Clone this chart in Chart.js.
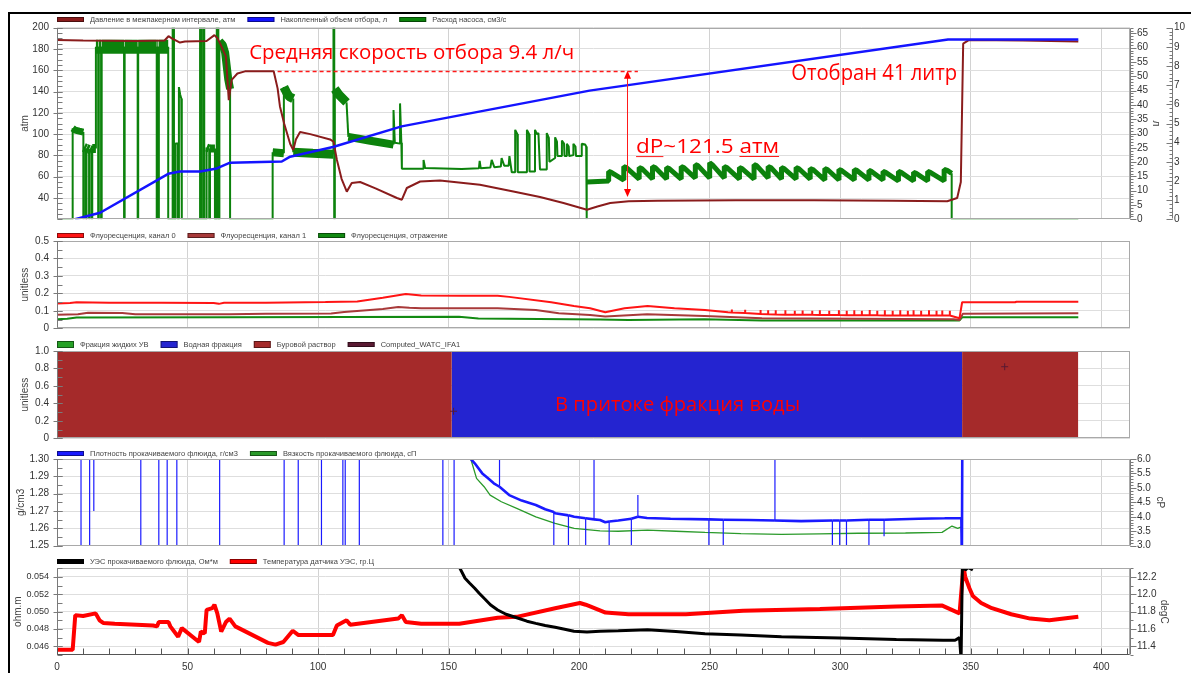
<!DOCTYPE html>
<html><head><meta charset="utf-8">
<script src="https://cdn.jsdelivr.net/npm/chart.js@4.4.1/dist/chart.umd.min.js"></script>
<style>
html,body{margin:0;padding:0;background:#fff;}
#wrap{position:relative;width:1191px;height:673px;overflow:hidden;background:#fff;}
canvas{position:absolute;left:0;top:0;}
#frame{position:absolute;left:8px;top:12px;width:1200px;height:700px;border-top:2px solid #000;border-left:2px solid #000;}
</style></head><body>
<div id="wrap">
<div id="frame"></div>
<canvas id="c1" width="1191" height="673"></canvas>
<canvas id="c2" width="1191" height="673"></canvas>
<canvas id="c3" width="1191" height="673"></canvas>
<canvas id="c4" width="1191" height="673"></canvas>
<canvas id="c5" width="1191" height="673"></canvas>
</div>
<script>
// ---------- tick labels ----------
const X_TICKS = [0,50,100,150,200,250,300,350,400];
const ATM_TICKS = [40,60,80,100,120,140,160,180,200];
const LITER_TICKS = [0,5,10,15,20,25,30,35,40,45,50,55,60,65];
const RATE_TICKS = [0,1,2,3,4,5,6,7,8,9,10];
const FLUOR_TICKS = [0,0.1,0.2,0.3,0.4,0.5];
const FRACTION_TICKS = [0,0.2,0.4,0.6,0.8,1.0];
const DENSITY_TICKS = [1.25,1.26,1.27,1.28,1.29,1.30];
const VISC_TICKS = [3.0,3.5,4.0,4.5,5.0,5.5,6.0];
const RES_TICKS = [0.046,0.048,0.050,0.052,0.054];
const TEMP_TICKS = [11.4,11.6,11.8,12.0,12.2];

// ---------- panel 1 ----------
const pressure = [[0,188.5],[10,188],[30,187.5],[41.2,188],[42.7,192],[44,190],[47.1,186],[49,187],[57.3,187.5],[60.3,193],[61.5,190],[62.5,185],[64.7,173],[65.8,132],[66.9,151],[69.1,157],[72,159],[83,159],[84.5,143],[85.4,126],[87,110],[89.3,91],[90.5,85],[91.5,95],[93.1,102],[97,100],[104.6,95],[105.9,93],[107.2,76],[109,58],[111,46],[112.9,54],[116.1,55],[122,49],[130.2,40],[132.1,38.4],[134,49.4],[139.1,55.5],[146.7,56.5],[162,52.4],[174.8,46.2],[185,41],[194,35.3],[203,29],[207,32],[211.9,35.3],[219,37],[230,37.5],[260,38],[290,38],[320,37.5],[341,37],[344.8,40],[346.2,55],[347.1,185],[349.4,188.5],[370,188],[391.2,187]];
const volume = [[6.9,0],[16.5,2.3],[42.6,15.9],[47.1,16.7],[54.8,16.7],[61.2,17.8],[66.3,19.8],[86.1,20.2],[89.3,21.9],[105.7,25.3],[132,32.5],[204,45],[341.3,62.9],[391.2,62.9]];
const pumpRate = [[0,0],[6.0,0],[6.0,4.75],[7.0,4.65],[8.5,4.6],[10.1,4.55],[10.1,0],[10.3,0],[10.3,3.75],[11.1,3.7],[11.1,0],[11.3,0],[11.3,3.7],[12.3,3.65],[12.3,0],[12.5,0],[12.5,3.65],[13.3,3.6],[13.3,0],[13.5,0],[13.5,3.7],[14.9,3.7],[14.9,9.0],[15.8,9.0],[15.8,0],[16.0,0],[16.0,9.0],[16.9,9.0],[16.9,0],[17.1,0],[17.1,9.0],[25.7,9.0],[25.7,0],[25.9,0],[25.9,9.0],[30.9,9.0],[30.9,0],[31.1,0],[31.1,9.0],[38.2,9.0],[38.2,0],[38.4,0],[38.4,9.0],[38.8,9.0],[38.8,0],[39.0,0],[39.0,9.0],[42.6,9.0],[42.6,0],[44.3,0],[44.3,11],[44.8,11],[44.8,0],[45.4,0],[45.4,3.95],[46.3,3.95],[46.3,0],[46.7,0],[46.7,6.9],[47.2,6.5],[47.6,6.3],[47.8,0],[54.8,0],[54.8,11],[55.2,11],[55.2,0],[56.0,0],[56.0,11],[56.4,11],[56.4,0],[57.3,0],[57.3,3.75],[58.3,3.7],[58.3,0],[58.6,0],[58.6,3.7],[60.5,3.7],[60.5,0],[61.2,0],[61.2,11],[61.8,11],[61.8,0],[62.2,0],[62.2,9.3],[63.5,9.1],[64.4,8.7],[65.0,8.0],[65.6,7.3],[66.3,6.8],[66.3,0],[82.6,0],[82.6,3.5],[86.9,3.45],[86.9,6.9],[88,6.6],[89,6.4],[90.5,6.3],[90.5,3.5],[98,3.45],[105.9,3.4],[105.9,11],[106.2,11],[106.2,0],[106.4,0],[106.4,6.8],[108,6.5],[110.9,6.1],[111.6,4.3],[120,4.1],[128.9,3.9],[128.9,5.7],[129.4,4.0],[131.4,3.95],[131.4,6.05],[131.9,4.0],[132.1,2.64],[140.2,2.64],[140.4,3.1],[141.0,2.68],[155,2.62],[161.6,2.66],[161.9,3.05],[162.3,2.66],[166,2.7],[166.5,3.1],[167.5,2.72],[170,2.75],[170.3,3.2],[171.3,2.8],[173,2.8],[173.3,3.3],[174.2,2.45],[175.5,2.45],[175.5,4.67],[176.3,4.45],[176.5,2.45],[180,2.45],[180,4.67],[180.8,4.45],[181,2.5],[183.1,2.5],[183.1,4.67],[183.8,4.45],[184.4,4.5],[185,2.6],[187.6,2.6],[187.6,4.5],[188.4,4.25],[188.6,3.0],[190.8,3.2],[190.8,4.28],[191.5,4.05],[191.7,3.3],[193.4,3.3],[193.4,4.11],[194.2,3.95],[194.4,3.3],[195.3,3.3],[195.3,3.94],[196,3.8],[196.2,3.3],[197.8,3.35],[197.8,3.94],[198.6,3.8],[198.8,3.3],[201,3.3],[201,3.94],[202.3,3.9],[202.7,3.8],[202.7,0],[203,0],[203,1.95],[211.3,2.0],
[211.3,2.5],[212.3,2.45],[217.1,2.05],[217.1,2.75],[218.1,2.7],[223,2.1],[223,2.7],[224,2.65],[228.1,2.1],[228.1,2.75],[229.1,2.7],[233.5,2.1],[233.5,2.7],[234.5,2.65],[239.1,2.1],[239.1,2.75],[240.1,2.7],[244.5,2.15],[244.5,2.85],[245.5,2.8],[250,2.15],[250,2.95],[251,2.85],[255.6,2.15],[255.6,2.75],[256.6,2.7],[261.4,2.1],[261.4,2.7],[262.4,2.65],[267,2.1],[267,2.85],[268,2.8],[272.4,2.15],[272.4,2.75],[273.4,2.7],[277.5,2.1],[277.5,2.7],[278.5,2.65],[283.1,2.1],[283.1,2.7],[284.1,2.65],[288.5,2.1],[288.5,2.65],[289.5,2.6],[294.1,2.05],[294.1,2.65],[295.1,2.6],[299.5,2.05],[299.5,2.6],[300.5,2.55],[305.4,2.05],[305.4,2.6],[306.4,2.55],[311,2.05],[311,2.55],[312,2.5],[316.4,2.05],[316.4,2.5],[317.4,2.45],[322.3,2.0],[322.3,2.5],[323.3,2.45],[328.1,2.0],[328.1,2.45],[329.1,2.4],[333.5,2.0],[333.5,2.5],[334.5,2.45],[339.8,2.0],[339.8,2.6],[341,2.55],[342.7,2.4],[342.7,0],[391.2,0]];

// ---------- panel 2 ----------
const fluor0 = [[0,0.142],[5,0.145],[7.5,0.149],[20,0.146],[40,0.147],[60,0.145],[62,0.14],[64,0.146],[80,0.147],[102.8,0.15],[115,0.153],[124.8,0.175],[133.6,0.196],[139.5,0.188],[155,0.186],[168.8,0.186],[173.2,0.18],[189.3,0.149],[198,0.128],[204.2,0.115],[210,0.092],[217.4,0.115],[226.2,0.128],[236.5,0.115],[248.2,0.105],[257,0.092],
[258.5,0.09],[258.5,0.108],[258.5,0.09],[263.6,0.087],[263.6,0.106],[263.6,0.087],[269.5,0.082],[269.5,0.105],[269.5,0.082],[272.4,0.08],[272.4,0.104],[272.4,0.08],[275.3,0.079],[275.3,0.104],[275.3,0.079],[279,0.078],[279,0.103],[279,0.078],[282.6,0.078],[282.6,0.1],[282.6,0.078],[285.6,0.077],[285.6,0.102],[285.6,0.077],[289.3,0.077],[289.3,0.1],[289.3,0.077],[292.2,0.076],[292.2,0.103],[292.2,0.076],[295.8,0.076],[295.8,0.1],[295.8,0.076],[299.5,0.076],[299.5,0.103],[299.5,0.076],[302.5,0.075],[302.5,0.1],[302.5,0.075],[305.4,0.075],[305.4,0.104],[305.4,0.075],[308.3,0.075],[308.3,0.1],[308.3,0.075],[311.3,0.075],[311.3,0.105],[311.3,0.075],[314.2,0.075],[314.2,0.1],[314.2,0.075],[317.1,0.074],[317.1,0.104],[317.1,0.074],[320.1,0.074],[320.1,0.1],[320.1,0.074],[323,0.074],[323,0.103],[323,0.074],[325.9,0.074],[325.9,0.1],[325.9,0.074],[328.1,0.073],[328.1,0.104],[328.1,0.073],[331,0.073],[331,0.1],[331,0.073],[334,0.073],[334,0.103],[334,0.073],[336.9,0.073],[336.9,0.1],[336.9,0.073],[339.1,0.073],[339.1,0.102],[339.1,0.073],[342,0.073],[342,0.1],[342,0.073],[345.7,0.058],[346.7,0.149],[367,0.149],[367.5,0.152],[391.2,0.152]];
const fluor1 = [[0,0.078],[8,0.08],[11.9,0.089],[25,0.087],[30,0.08],[66.1,0.08],[80,0.083],[105,0.085],[110,0.093],[124.8,0.11],[130.7,0.122],[135,0.118],[139.5,0.115],[168.8,0.115],[183.4,0.105],[192.2,0.086],[204.2,0.076],[210,0.067],[226,0.08],[248,0.07],[270,0.057],[343.5,0.052],[345.7,0.048],[347,0.084],[391.2,0.086]];
const fluorRefl = [[0,0.052],[3.9,0.055],[7.5,0.062],[66.1,0.064],[154,0.066],[161.4,0.056],[208,0.05],[218.9,0.048],[248,0.052],[270,0.045],[345.7,0.045],[346.7,0.063],[391.2,0.063]];

// ---------- panel 3 ----------
const hydrocarbonFraction = [];
const waterFraction = [[151.2,0],[151.2,1],[346.7,1],[346.7,0]];
const mudFraction = [[0,1],[151.2,1],[151.2,0],[346.7,0],[346.7,1],[391.2,1],[391.2,0]];
const computedWatc = [[151.9,0.31],[363,0.82]];

// ---------- panel 4 ----------
const density = [[0,1.32],[9.2,1.32],[9.2,1.24],[9.2,1.32],[12.5,1.32],[12.5,1.24],[12.5,1.32],[14.1,1.32],[14.1,1.27],[14.1,1.32],[32.1,1.32],[32.1,1.24],[32.1,1.32],[39.0,1.32],[39.0,1.24],[39.0,1.32],[42.2,1.32],[42.2,1.24],[42.2,1.32],[45.9,1.32],[45.9,1.24],[45.9,1.32],[62.3,1.32],[62.3,1.24],[62.3,1.32],[87.0,1.32],[87.0,1.24],[87.0,1.32],[92.4,1.32],[92.4,1.24],[92.4,1.32],[101.3,1.32],[101.3,1.24],[101.3,1.32],[109.5,1.32],[109.5,1.24],[109.5,1.32],[110.4,1.32],[110.4,1.24],[110.4,1.32],[115.8,1.32],[115.8,1.24],[115.8,1.32],[147.8,1.32],[147.8,1.24],[147.8,1.32],[152.1,1.32],[152.1,1.24],[152.1,1.32],[156,1.31],[158.5,1.30],[160,1.2975],[162.9,1.2917],[165,1.289],[167.3,1.286],[169.5,1.284],[169.5,1.32],[169.5,1.284],[173.2,1.2792],[178,1.276],[183.4,1.2735],[187,1.271],[190.3,1.2695],[190.3,1.24],[190.3,1.2695],[190.8,1.2687],[195.9,1.2675],[195.9,1.24],[195.9,1.2675],[198.1,1.2667],[202.5,1.2658],[202.5,1.24],[202.5,1.2658],[205.7,1.2652],[205.7,1.32],[205.7,1.2652],[208,1.2648],[210,1.2635],[211.5,1.264],[211.5,1.24],[211.5,1.264],[215,1.2645],[220,1.2655],[220,1.24],[220,1.2655],[222.5,1.2667],[222.5,1.2792],[222.5,1.2667],[226,1.266],[235,1.2655],[249.7,1.2652],[249.7,1.24],[249.7,1.2652],[255.2,1.265],[255.2,1.24],[255.2,1.265],[265,1.2648],[275,1.2645],[275,1.32],[275,1.2645],[285,1.2642],[297,1.2645],[297,1.24],[297,1.2645],[299.8,1.2645],[299.8,1.24],[299.8,1.2645],[302.4,1.2645],[302.4,1.24],[302.4,1.2645],[311,1.265],[311,1.24],[311,1.265],[316.8,1.265],[316.8,1.2555],[316.8,1.265],[330,1.2655],[340,1.2658],[346.4,1.266],[346.6,1.24],[346.8,1.32]];
const viscosity = [[157.8,6.6],[158.5,6.0],[160.7,5.33],[163.6,5.04],[165.9,4.75],[170.2,4.52],[176.1,4.29],[183.4,4.0],[190.8,3.77],[198.1,3.6],[208,3.51],[215,3.5],[226.2,3.54],[237,3.5],[248.2,3.46],[262,3.42],[277.5,3.39],[292,3.41],[306.9,3.43],[325,3.44],[339,3.46],[342.8,3.68],[345,3.6],[346.4,3.65],[346.7,3.0]];

// ---------- panel 5 ----------
const resistivity = [[152.7,0.0556],[154,0.0552],[156.3,0.05385],[158,0.0533],[160,0.0527],[161.8,0.0521],[163.6,0.05154],[166,0.0508],[168.8,0.05019],[172,0.0497],[176.1,0.0493],[180,0.0489],[183.4,0.04865],[187,0.0484],[190.8,0.0482],[194,0.048],[198,0.04775],[203,0.04765],[208,0.04775],[215,0.0478],[226.2,0.0479],[237,0.0477],[248.2,0.04745],[262,0.0473],[277.5,0.0471],[300,0.04695],[321.5,0.0468],[339.5,0.0467],[344,0.0467],[345.7,0.047],[346.3,0.0445],[346.8,0.0556],[347.9,0.0548],[349,0.0551],[350.8,0.0548]];
const sensorTemp = [[0,11.36],[6,11.36],[7,11.76],[10,11.75],[14.8,11.78],[16.3,11.70],[17.7,11.67],[22.1,11.66],[36.8,11.64],[38.3,11.63],[39,11.68],[42.7,11.68],[43.4,11.63],[46.4,11.51],[47.8,11.61],[54.4,11.45],[55.1,11.57],[56.6,11.55],[57.3,11.82],[59.5,11.84],[60.3,11.88],[61.4,11.78],[62.9,11.57],[64.7,11.68],[66.1,11.72],[68.3,11.63],[80.8,11.44],[83.7,11.42],[86.7,11.45],[90.3,11.58],[92.5,11.53],[105.7,11.53],[107.2,11.64],[110.9,11.70],[112.3,11.65],[130.7,11.72],[132.1,11.76],[133.6,11.68],[139.5,11.66],[154.1,11.66],[168.8,11.73],[176.1,11.74],[190.8,11.84],[200.3,11.90],[202.5,11.88],[204.2,11.86],[210.1,11.79],[218.9,11.77],[240.9,11.77],[262.8,11.81],[292.2,11.83],[321.5,11.86],[339.1,11.87],[345.7,11.78],[346.7,12.14],[347.2,12.32],[347.9,12.2],[349.5,12.07],[350.8,11.98],[354,11.9],[358.1,11.84],[365.5,11.77],[372.8,11.72],[380.1,11.70],[391.2,11.74]];

// ---------- styling helpers ----------
const FONT = '"Liberation Sans", Arial, sans-serif';
const NOTE_FONT = '"Open Sans", "Noto Sans", sans-serif';
// [from, to, width, thick verticals]
const PUMP_BANDS = [[6,10.1,7,0],[10.1,14.9,9,0],[14.9,42.6,14,0],[57.3,60.5,8,0],[62,66,8,0],[82.6,86.9,8,0],[86.9,90.5,9,0],[90.5,105.9,9,0],[106.3,111,9,0],[111.6,128.9,8,0],[203,342.7,5,1]];
function pumpWidth(c){
  const x0=c.p0.parsed.x, x1=c.p1.parsed.x, y0=c.p0.parsed.y, y1=c.p1.parsed.y;
  const m=(x0+x1)/2;
  for (const b of PUMP_BANDS) if (m>b[0] && m<b[1]) {
    if (x0===x1 && !(b[3] && y0>0.5 && y1>0.5)) return undefined;
    return b[2];
  }
  return undefined;
}
function spikeThin(c){ return c.p0.parsed.x===c.p1.parsed.x ? 1.2 : undefined; }

function xAxis(show){
  return { type:'linear', min:0, max:411,
    afterBuildTicks: s => { s.ticks = X_TICKS.map(v=>({value:v})); },
    afterFit: s => { s.height = show ? 18 : 0; },
    grid:{ color:'#d2d2d2', drawTicks:false }, border:{display:false},
    ticks:{ display:show, padding:6, color:'#333', font:{family:FONT,size:10}, maxRotation:0, autoSkip:false, callback:v=>String(v) } };
}
function yAxis(o){
  return { type:'linear', position:o.pos, min:o.min, max:o.max, weight:o.weight||0,
    afterBuildTicks: s => { s.ticks = o.ticks.map(v=>({value:v})); },
    afterFit: s => { s.width = o.width; },
    ticks:{ callback:v=>o.fmt(v), padding:o.pad, color:'#333', font:{family:FONT,size:o.fs||10}, autoSkip:false },
    grid:{ display:!!o.grid, drawOnChartArea:!!o.grid, drawTicks:false, color:'#dedede' },
    border:{display:false},
    title:{ display:!!o.title, text:o.title||'', color:'#444', font:{family:FONT,size:10}, padding:{top:o.tpad||0,bottom:0} } };
}
function baseOpts(top, bottom, right){
  return { responsive:false, animation:false, events:[],
    layout:{padding:{top:top,bottom:bottom,left:0,right:right}},
    elements:{ point:{radius:0}, line:{tension:0, borderJoinStyle:'bevel', borderCapStyle:'butt'} },
    plugins:{ legend:{display:false}, tooltip:{enabled:false} } };
}
function makeDecor(axes, xMinor){
  return { id:'decor', afterDraw(chart){
    const ctx=chart.ctx, a=chart.chartArea;
    const L=Math.round(a.left)+0.5, R=Math.round(a.right)-0.5, T=Math.round(a.top)+0.5, B=Math.round(a.bottom)-0.5;
    ctx.save(); ctx.lineWidth=1;
    ctx.strokeStyle='#a9a9a9'; ctx.strokeRect(L,T,R-L,B-T);
    axes.forEach(ax => {
      const s=chart.scales[ax.id];
      const x0=(s.position==='left'?Math.round(a.left):Math.round(s.left))+0.5;
      ctx.strokeStyle='#7a7a7a';
      ctx.beginPath(); ctx.moveTo(x0,T); ctx.lineTo(x0,B);
      const n=Math.round((s.max-s.min)/ax.minor);
      for(let i=0;i<=n;i++){ const y=Math.round(s.getPixelForValue(s.min+i*ax.minor))+0.5; ctx.moveTo(x0,y); ctx.lineTo(x0+ax.dir*ax.minorLen,y); }
      s.ticks.forEach(t => { const y=Math.round(s.getPixelForValue(t.value))+0.5; ctx.moveTo(x0-ax.dir*ax.outLen,y); ctx.lineTo(x0+ax.dir*ax.inLen,y); });
      ctx.stroke();
    });
    if (xMinor){
      const s=chart.scales.x; ctx.strokeStyle='#555'; ctx.beginPath();
      ctx.moveTo(L,B); ctx.lineTo(R,B);
      const n=Math.floor(s.max/xMinor);
      for(let i=0;i<=n;i++){ const x=Math.round(s.getPixelForValue(i*xMinor))+0.5; ctx.moveTo(x,B); ctx.lineTo(x,B-6); }
      ctx.stroke();
    }
    ctx.restore();
  }};
}
function makeLegend(y){
  return { id:'miniLegend', afterDraw(chart){
    const ctx=chart.ctx; let x=Math.round(chart.chartArea.left);
    ctx.save(); ctx.font='7.5px '+FONT; ctx.textBaseline='middle';
    chart.data.datasets.forEach(ds => {
      const box=ds.legendBox==='box';
      const w=box?17:27, h=box?7:5, top=Math.round(y-h/2);
      ctx.fillStyle=ds.legendColor||ds.borderColor;
      ctx.fillRect(x,top,w,h);
      ctx.strokeStyle='rgba(0,0,0,0.45)'; ctx.lineWidth=1; ctx.strokeRect(x+0.5,top+0.5,w-1,h-1);
      x+=w+6;
      ctx.fillStyle='#444'; ctx.fillText(ds.label,x,y+0.5);
      x+=ctx.measureText(ds.label).width+12;
    });
    ctx.restore();
  }};
}
function makeNotes(items){
  return { id:'notes', afterDraw(chart){
    const ctx=chart.ctx, xs=chart.scales.x;
    items.forEach(it => {
      const ys=chart.scales[it.axis];
      ctx.save(); ctx.strokeStyle='#ff1a1a'; ctx.fillStyle='#ff0000'; ctx.lineWidth=1;
      if (it.type==='text'){
        const x=xs.getPixelForValue(it.x), y=ys.getPixelForValue(it.y);
        ctx.font=it.size+'px '+NOTE_FONT;
        const w=ctx.measureText(it.text).width;
        ctx.translate(x,y); ctx.scale(it.width/w,1);
        ctx.textBaseline='alphabetic'; ctx.fillText(it.text,0,0);
        (it.underline||[]).forEach(sub => {
          const i=it.text.indexOf(sub);
          const u0=ctx.measureText(it.text.slice(0,i)).width, u1=u0+ctx.measureText(sub).width;
          ctx.beginPath(); ctx.moveTo(u0,3.5); ctx.lineTo(u1,3.5); ctx.stroke();
        });
      } else if (it.type==='dash'){
        const y=Math.round(ys.getPixelForValue(it.y))+0.5;
        ctx.lineWidth=1.3; ctx.setLineDash([4,3]); ctx.beginPath();
        ctx.moveTo(xs.getPixelForValue(it.x1),y); ctx.lineTo(xs.getPixelForValue(it.x2),y); ctx.stroke();
      } else if (it.type==='arrow'){
        const x=Math.round(xs.getPixelForValue(it.x))+0.5, y1=ys.getPixelForValue(it.y1), y2=ys.getPixelForValue(it.y2);
        ctx.beginPath(); ctx.moveTo(x,y1+5); ctx.lineTo(x,y2-5); ctx.stroke();
        ctx.beginPath(); ctx.moveTo(x,y1); ctx.lineTo(x-3.5,y1+8); ctx.lineTo(x+3.5,y1+8); ctx.closePath(); ctx.fill();
        ctx.beginPath(); ctx.moveTo(x,y2); ctx.lineTo(x-3.5,y2-8); ctx.lineTo(x+3.5,y2-8); ctx.closePath(); ctx.fill();
      }
      ctx.restore();
    });
  }};
}
const f0 = v => String(v);
const f1z = v => v===0 ? '0' : v.toFixed(1);

// ---------- chart 1 ----------
new Chart(document.getElementById('c1'), {
  type:'line',
  data:{ datasets:[
    {label:'Давление в межпакерном интервале, атм', data:pressure, yAxisID:'yA', borderColor:'#8a1c1c', borderWidth:2, order:1},
    {label:'Накопленный объем отбора, л', data:volume, yAxisID:'yV', borderColor:'#1414ff', borderWidth:2.5, order:0},
    {label:'Расход насоса, см3/с', data:pumpRate, yAxisID:'yQ', borderColor:'#0c820c', borderWidth:2, order:2, segment:{borderWidth:pumpWidth}}
  ]},
  options: Object.assign(baseOpts(27.7, 673-219.3, 0), { scales:{
    x: xAxis(false),
    yA: yAxis({pos:'left', min:20, max:200, ticks:ATM_TICKS, fmt:f0, pad:8, width:57, grid:true, title:'atm', tpad:19}),
    yV: yAxis({pos:'right', min:0, max:67, ticks:LITER_TICKS, fmt:f0, pad:7, width:42, title:'л', tpad:10, weight:0}),
    yQ: yAxis({pos:'right', min:0, max:10, ticks:RATE_TICKS, fmt:f0, pad:2, width:19, weight:1})
  }}),
  plugins:[
    makeDecor([{id:'yA',minor:5,dir:1,minorLen:5,inLen:5,outLen:4},{id:'yV',minor:1,dir:1,minorLen:3,inLen:6,outLen:0},{id:'yQ',minor:0.2,dir:-1,minorLen:3,inLen:6,outLen:0}]),
    makeLegend(19.5),
    makeNotes([
      {type:'text', text:'Средняя скорость отбора 9.4 л/ч', x:73.6, y:170.4, axis:'yA', size:20, width:325},
      {type:'dash', x1:84.5, x2:222.5, y:159.5, axis:'yA'},
      {type:'arrow', x:218.2, y1:159.5, y2:40.9, axis:'yA'},
      {type:'text', text:'dP~121.5 атм', x:221.8, y:82.2, axis:'yA', size:20, width:143, underline:['dP','атм']},
      {type:'text', text:'Отобран 41 литр', x:281.2, y:150.9, axis:'yA', size:21, width:166}
    ])
  ]
});

// ---------- chart 2 ----------
new Chart(document.getElementById('c2'), {
  type:'line',
  data:{ datasets:[
    {label:'Флуоресценция, канал 0', data:fluor0, yAxisID:'y', borderColor:'#ff1414', borderWidth:2, order:0},
    {label:'Флуоресценция, канал 1', data:fluor1, yAxisID:'y', borderColor:'#a83a3a', borderWidth:2, order:1},
    {label:'Флуоресценция, отражение', data:fluorRefl, yAxisID:'y', borderColor:'#128a12', borderWidth:2, order:2}
  ]},
  options: Object.assign(baseOpts(241, 673-328.3, 61), { scales:{
    x: xAxis(false),
    y: yAxis({pos:'left', min:0, max:0.5, ticks:FLUOR_TICKS, fmt:f1z, pad:8, width:57, grid:true, title:'unitless', tpad:19})
  }}),
  plugins:[ makeDecor([{id:'y',minor:0.05,dir:1,minorLen:5,inLen:5,outLen:4}]), makeLegend(235) ]
});

// ---------- chart 3 ----------
new Chart(document.getElementById('c3'), {
  type:'line',
  data:{ datasets:[
    {label:'Фракция жидких УВ', data:hydrocarbonFraction, yAxisID:'y', borderColor:'#27a127', backgroundColor:'#27a127', borderWidth:0, legendBox:'box'},
    {label:'Водная фракция', data:waterFraction, yAxisID:'y', borderColor:'#2424d0', backgroundColor:'#2424d0', borderWidth:0, fill:'origin', legendBox:'box'},
    {label:'Буровой раствор', data:mudFraction, yAxisID:'y', borderColor:'#a52a2a', backgroundColor:'#a52a2a', borderWidth:0, fill:'origin', legendBox:'box'},
    {label:'Computed_WATC_IFA1', data:computedWatc, yAxisID:'y', borderColor:'#5a1a33', backgroundColor:'#5a1a33', showLine:false, pointStyle:'cross', pointRadius:3.5, pointBorderWidth:1, order:-1}
  ]},
  options: Object.assign(baseOpts(351, 673-438.3, 61), { scales:{
    x: xAxis(false),
    y: yAxis({pos:'left', min:0, max:1, ticks:FRACTION_TICKS, fmt:f1z, pad:8, width:57, grid:true, title:'unitless', tpad:19})
  }}),
  plugins:[ makeDecor([{id:'y',minor:0.1,dir:1,minorLen:5,inLen:5,outLen:4}]), makeLegend(344.3),
    makeNotes([{type:'text', text:'В притоке фракция воды', x:190.8, y:0.313, axis:'y', size:20, width:245}]) ]
});

// ---------- chart 4 ----------
new Chart(document.getElementById('c4'), {
  type:'line',
  data:{ datasets:[
    {label:'Плотность прокачиваемого флюида, г/см3', data:density, yAxisID:'yD', borderColor:'#1a1aff', borderWidth:2.6, order:0, segment:{borderWidth:spikeThin}},
    {label:'Вязкость прокачиваемого флюида, сП', data:viscosity, yAxisID:'yVis', borderColor:'#2a9a2a', borderWidth:1.3, order:1}
  ]},
  options: Object.assign(baseOpts(459, 673-545.7, 0), { scales:{
    x: xAxis(false),
    yD: yAxis({pos:'left', min:1.25, max:1.30, ticks:DENSITY_TICKS, fmt:v=>v.toFixed(2), pad:8, width:57, grid:true, title:'g/cm3', tpad:15}),
    yVis: yAxis({pos:'right', min:3, max:6, ticks:VISC_TICKS, fmt:v=>v.toFixed(1), pad:7, width:61, title:'cP', tpad:25})
  }}),
  plugins:[ makeDecor([{id:'yD',minor:0.005,dir:1,minorLen:5,inLen:5,outLen:4},{id:'yVis',minor:0.1,dir:1,minorLen:3,inLen:6,outLen:0}]), makeLegend(453.7) ]
});

// ---------- chart 5 ----------
new Chart(document.getElementById('c5'), {
  type:'line',
  data:{ datasets:[
    {label:'УЭС прокачиваемого флюида, Ом*м', data:resistivity, yAxisID:'yR', borderColor:'#000000', borderWidth:3, order:0},
    {label:'Температура датчика УЭС, гр.Ц', data:sensorTemp, yAxisID:'yT', borderColor:'#ff0000', borderWidth:4, order:1}
  ]},
  options: Object.assign(baseOpts(568.3, 0, 0), { scales:{
    x: xAxis(true),
    yR: yAxis({pos:'left', min:0.045, max:0.055, ticks:RES_TICKS, fmt:v=>v.toFixed(3), pad:8, width:57, grid:true, title:'ohm.m', tpad:12, fs:9}),
    yT: yAxis({pos:'right', min:11.3, max:12.3, ticks:TEMP_TICKS, fmt:v=>v.toFixed(1), pad:7, width:61, title:'degC', tpad:21})
  }}),
  plugins:[ makeDecor([{id:'yR',minor:0.001,dir:1,minorLen:5,inLen:5,outLen:4},{id:'yT',minor:0.1,dir:1,minorLen:3,inLen:6,outLen:0}], 10), makeLegend(561.7) ]
});
</script>
</body></html>
